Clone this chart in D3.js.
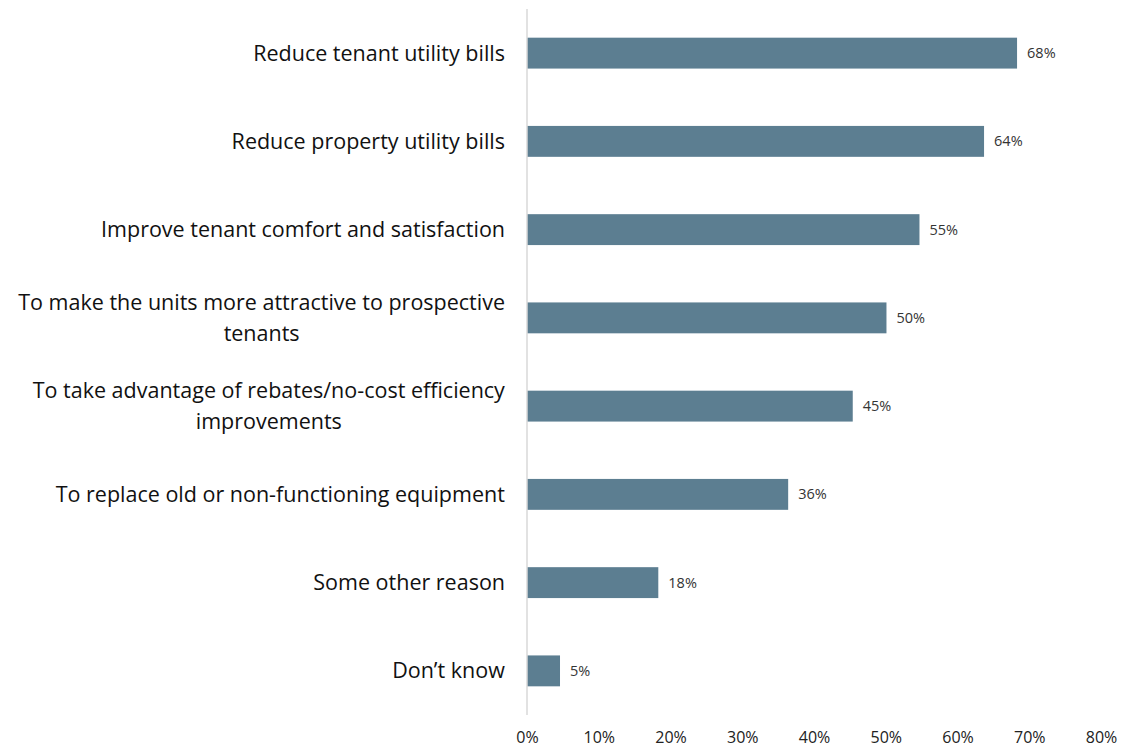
<!DOCTYPE html>
<html>
<head>
<meta charset="utf-8">
<script src="https://cdn.jsdelivr.net/npm/d3@7"></script>
<style>
  body { margin: 0; background: #fff; }
  text { font-family: "Open Sans", sans-serif; }
</style>
</head>
<body>
<div id="chart"></div>
<script>
// données
const categories = [
  "Reduce tenant utility bills",
  "Reduce property utility bills",
  "Improve tenant comfort and satisfaction",
  "To make the units more attractive to prospective|tenants",
  "To take advantage of rebates/no-cost efficiency|improvements",
  "To replace old or non-functioning equipment",
  "Some other reason",
  "Don’t know"
];
const values = [68.3, 63.7, 54.7, 50.1, 45.4, 36.4, 18.3, 4.6];
const ticks = [0, 10, 20, 30, 40, 50, 60, 70, 80];

// constantes
const w = 1121, h = 748;
const x0 = 527, x1 = 1101;
const yTop = 9, yBottom = 715;

const svg = d3.select("#chart").append("svg")
  .attr("width", w)
  .attr("height", h);

const xScale = d3.scaleLinear().domain([0, 80]).range([x0, x1]);
const yScale = d3.scaleBand().domain(categories).range([yTop, yBottom]).paddingInner(0.65).paddingOuter(0.325);

// barres
svg.selectAll("rect.bar")
  .data(values)
  .enter()
  .append("rect")
  .attr("class", "bar")
  .attr("x", xScale(0))
  .attr("y", (d, i) => yScale(categories[i]))
  .attr("width", d => xScale(d) - xScale(0))
  .attr("height", yScale.bandwidth())
  .attr("fill", "#5c7e91");

// étiquettes de valeur
svg.selectAll("text.val")
  .data(values)
  .enter()
  .append("text")
  .attr("class", "val")
  .attr("x", d => xScale(d) + 10)
  .attr("y", (d, i) => yScale(categories[i]) + yScale.bandwidth() / 2)
  .attr("dy", "0.35em")
  .attr("font-size", "14.5px")
  .attr("fill", "#333")
  .text(d => Math.round(d) + "%");

// axe vertical
svg.append("line")
  .attr("x1", x0).attr("x2", x0)
  .attr("y1", yTop).attr("y2", yBottom)
  .attr("stroke", "#d9d9d9")
  .attr("stroke-width", 1.5);

// catégories (texte sur une ou deux lignes)
const lineH = 31;
categories.forEach(c => {
  const lines = c.split("|");
  const cy = yScale(c) + yScale.bandwidth() / 2;
  const t = svg.append("text")
    .attr("font-size", "21.5px")
    .attr("fill", "#111")
    .attr("text-anchor", "middle");
  lines.forEach((l, k) => {
    t.append("tspan")
      .attr("x", 0)
      .attr("y", cy + (k - (lines.length - 1) / 2) * lineH)
      .attr("dy", "0.35em")
      .text(l);
  });
  const bw = t.node().getBBox().width;
  t.attr("transform", "translate(" + (505 - bw / 2) + ",0)");
});

// axe x
const axeX = d3.axisBottom(xScale)
  .tickValues(ticks)
  .tickSize(0)
  .tickPadding(0)
  .tickFormat(d => d + "%");

const gx = svg.append("g")
  .attr("transform", "translate(0," + 732 + ")")
  .call(axeX);
gx.select(".domain").remove();
gx.selectAll("text")
  .attr("font-size", "16px")
  .attr("fill", "#222")
  .attr("font-family", "'Open Sans', sans-serif");
</script>
</body>
</html>
